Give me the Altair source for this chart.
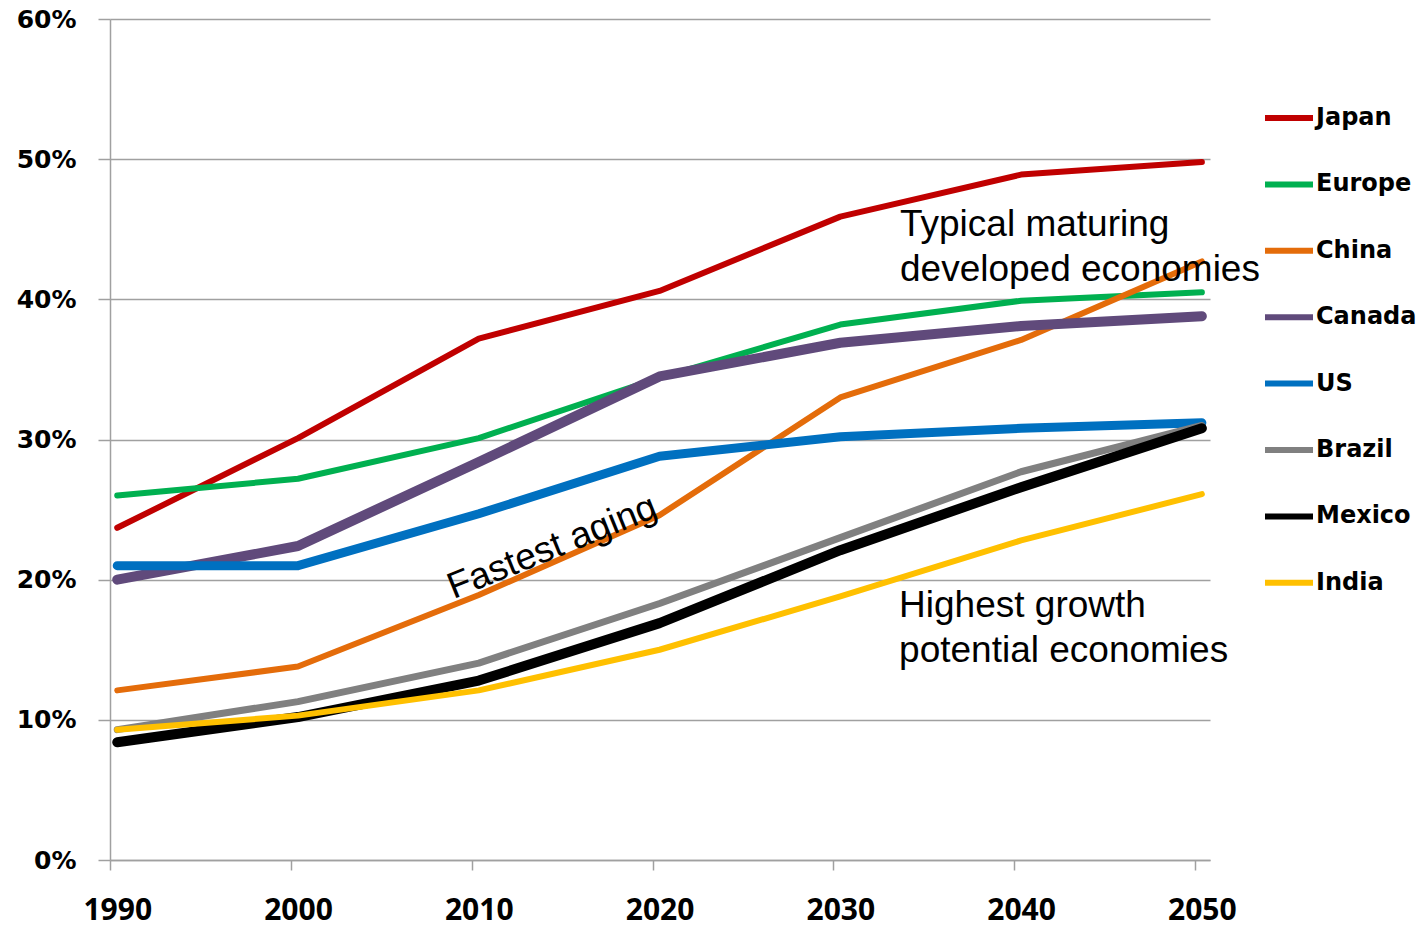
import altair as alt
import pandas as pd

years = [1990, 2000, 2010, 2020, 2030, 2040, 2050]
countries = ["Japan", "Europe", "China", "Canada", "US", "Brazil", "Mexico", "India"]
colors = ["#C00000", "#00B050", "#E46C0A", "#604A7B", "#0070C0", "#808080", "#000000", "#FFC000"]
widths = [6, 6, 6, 10, 9, 7, 10, 6]

japan = [23.7, 30.1, 37.2, 40.6, 45.9, 48.9, 49.8]
europe = [26.0, 27.2, 30.1, 34.4, 38.2, 39.9, 40.5]
china = [12.1, 13.8, 18.9, 24.6, 33.0, 37.1, 42.7]
canada = [20.0, 22.4, 28.4, 34.5, 36.9, 38.1, 38.8]
us = [21.0, 21.0, 24.7, 28.8, 30.2, 30.8, 31.2]
brazil = [9.3, 11.3, 14.05, 18.3, 23.0, 27.7, 31.0]
mexico = [8.4, 10.2, 12.8, 16.9, 22.1, 26.6, 30.8]
india = [9.3, 10.3, 12.1, 15.0, 18.8, 22.8, 26.1]
series = [japan, europe, china, canada, us, brazil, mexico, india]

ann_text = ["Typical maturing", "developed economies", "Highest growth", "potential economies"]
ann_year = [2033.3, 2033.3, 2033.25, 2033.25]
ann_value = [44.5, 41.3, 17.35, 14.15]

rot_text = ["Fastest aging"]
rot_year = [2008.6]
rot_value = [18.6]

rows = []
for c, vals in zip(countries, series):
    for y, v in zip(years, vals):
        rows.append({"country": c, "year": y, "value": v})
df = pd.DataFrame(rows)

x_enc = alt.X(
    "year:Q",
    scale=alt.Scale(domain=[1989.6, 2050.45], nice=False, zero=False),
    axis=alt.Axis(
        values=years,
        format="d",
        tickOffset=-7,
        labelOffset=7,
        tickSize=10,
        labelPadding=25,
        grid=False,
        domainColor="#A0A0A0",
        domainWidth=1.5,
        tickColor="#A0A0A0",
        tickWidth=1.5,
        labelFont="Open Sans",
        labelFontWeight="bold",
        labelFontSize=30,
        labelColor="black",
        labelFlush=False,
        labelOverlap=False,
        title=None,
    ),
)
y_enc = alt.Y(
    "value:Q",
    scale=alt.Scale(domain=[0, 60], nice=False),
    axis=alt.Axis(
        values=[0, 10, 20, 30, 40, 50, 60],
        labelExpr="datum.value + '%'",
        tickSize=12,
        labelPadding=22,
        grid=True,
        gridColor="#A0A0A0",
        gridWidth=1.5,
        domainColor="#A0A0A0",
        domainWidth=1.5,
        tickColor="#A0A0A0",
        tickWidth=1.5,
        labelFont="DejaVu Sans",
        labelFontWeight="bold",
        labelFontSize=25,
        labelColor="black",
        labelFlush=False,
        title=None,
    ),
)

color_enc = alt.Color(
    "country:N",
    scale=alt.Scale(domain=countries, range=colors),
    sort=countries,
    legend=alt.Legend(
        orient="none",
        legendX=1152,
        legendY=72,
        title=None,
        symbolType="stroke",
        symbolSize=2304,
        symbolStrokeWidth=6,
        labelFont="DejaVu Sans",
        labelFontWeight="bold",
        labelFontSize=24,
        labelColor="black",
        rowPadding=27.4,
        labelOffset=0,
        padding=0,
    ),
)

layers = []
for c, w in zip(countries, widths):
    layers.append(
        alt.Chart(df)
        .transform_filter(alt.datum.country == c)
        .mark_line(strokeWidth=w, strokeCap="round", strokeJoin="round")
        .encode(x=x_enc, y=y_enc, color=color_enc)
    )

ann_df = pd.DataFrame({"text": ann_text, "year": ann_year, "value": ann_value})
rot_df = pd.DataFrame({"text": rot_text, "year": rot_year, "value": rot_value})

ann = alt.Chart(ann_df).mark_text(
    align="left", baseline="alphabetic", font="Liberation Sans", fontSize=37, color="black"
).encode(x="year:Q", y="value:Q", text="text:N")

rot = alt.Chart(rot_df).mark_text(
    align="left", baseline="alphabetic", font="Liberation Sans", fontSize=37, color="black", angle=338
).encode(x="year:Q", y="value:Q", text="text:N")

chart = (
    alt.layer(*layers, ann, rot)
    .properties(
        width=1100,
        height=841,
        autosize=alt.AutoSizeParams(type="none"),
        padding={"left": 110, "top": 19, "right": 216, "bottom": 65},
        background="white",
    )
    .configure_view(stroke=None)
)

chart.save("out.html", embed_options={"renderer": "svg", "actions": False})
